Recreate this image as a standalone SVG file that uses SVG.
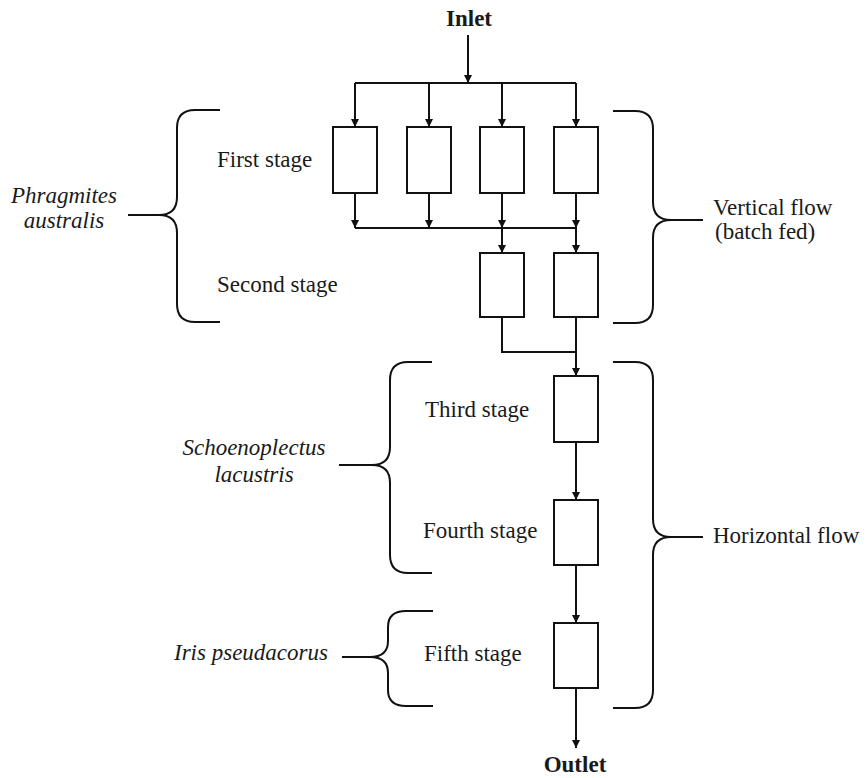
<svg xmlns="http://www.w3.org/2000/svg" width="866" height="778" viewBox="0 0 866 778">
<defs>
<marker id="arr" viewBox="0 0 8 10" refX="8" refY="5" markerWidth="8" markerHeight="10" markerUnits="userSpaceOnUse" orient="auto">
<path d="M0,1 L8,5 L0,9 Z" fill="#111"/>
</marker>
</defs>
<style>
.box{fill:#fff;stroke:#111;stroke-width:2}
.ln{fill:none;stroke:#111;stroke-width:2}
.ar{fill:none;stroke:#111;stroke-width:2;marker-end:url(#arr)}
.br{fill:none;stroke:#111;stroke-width:2}
.t{font-family:"Liberation Serif","Times New Roman",serif;font-size:23px;fill:#1a1a1a}
.b{font-weight:bold;font-size:23px}
.i{font-style:italic}
</style>
<rect width="866" height="778" fill="#fff"/>
<g id="connectors">
<path class="ar" d="M468,35 V83"/>
<path class="ln" d="M355,83 H576"/>
<path class="ar" d="M355,83 V127"/>
<path class="ar" d="M429,83 V127"/>
<path class="ar" d="M502,83 V127"/>
<path class="ar" d="M576,83 V127"/>
<path class="ar" d="M355,193 V228"/>
<path class="ar" d="M429,193 V228"/>
<path class="ar" d="M502,193 V228"/>
<path class="ar" d="M576,193 V228"/>
<path class="ln" d="M355,228 H576"/>
<path class="ar" d="M502,228 V253"/>
<path class="ar" d="M576,228 V253"/>
<path class="ln" d="M502,317 V352 H576"/>
<path class="ar" d="M576,317 V376"/>
<path class="ar" d="M576,442 V500"/>
<path class="ar" d="M576,565 V623"/>
<path class="ar" d="M576,688 V748"/>
</g>
<g id="stage1">
<rect id="s1a" class="box" x="333" y="127" width="44" height="66"/>
<rect id="s1b" class="box" x="407" y="127" width="44" height="66"/>
<rect id="s1c" class="box" x="480" y="127" width="44" height="66"/>
<rect id="s1d" class="box" x="554" y="127" width="44" height="66"/>
</g>
<g id="stage2">
<rect id="s2a" class="box" x="480" y="253" width="44" height="64"/>
<rect id="s2b" class="box" x="554" y="253" width="44" height="64"/>
</g>
<g id="stage3"><rect class="box" x="554" y="376" width="44" height="66"/></g>
<g id="stage4"><rect class="box" x="554" y="500" width="44" height="65"/></g>
<g id="stage5"><rect class="box" x="554" y="623" width="44" height="65"/></g>
<g id="braces">
<path class="br" d="M220,110 H195 Q177,110 177,128 V197 Q177,215 159,215 Q177,215 177,233 V304 Q177,322 195,322 H220 M128,215 H159"/>
<path class="br" d="M613,111 H635 Q653,111 653,129 V202 Q653,220 671,220 Q653,220 653,238 V305 Q653,323 635,323 H613 M671,220 H703"/>
<path class="br" d="M432,362 H408 Q390,362 390,380 V447 Q390,465 372,465 Q390,465 390,483 V555 Q390,573 408,573 H432 M339,465 H372"/>
<path class="br" d="M433,611 H406 Q388,611 388,627 V641 Q388,657 370,657 Q388,657 388,673 V690 Q388,706 406,706 H433 M342,657 H370"/>
<path class="br" d="M613,362 H635 Q653,362 653,380 V519 Q653,537 671,537 Q653,537 653,555 V690 Q653,708 635,708 H613 M671,537 H703"/>
</g>
<g id="labels">
<text class="t b" x="469" y="26" text-anchor="middle">Inlet</text>
<text class="t b" x="575" y="772" text-anchor="middle">Outlet</text>
<text class="t" x="217" y="167">First stage</text>
<text class="t" x="217" y="292">Second stage</text>
<text class="t" x="425" y="417">Third stage</text>
<text class="t" x="423" y="538">Fourth stage</text>
<text class="t" x="424" y="661">Fifth stage</text>
<text class="t i" x="64" y="203" text-anchor="middle">Phragmites</text>
<text class="t i" x="64" y="228" text-anchor="middle">australis</text>
<text class="t i" x="254" y="455" text-anchor="middle">Schoenoplectus</text>
<text class="t i" x="254" y="482" text-anchor="middle">lacustris</text>
<text class="t i" x="174" y="660">Iris pseudacorus</text>
<text class="t" x="713" y="215">Vertical flow</text>
<text class="t" x="715" y="239">(batch fed)</text>
<text class="t" x="713" y="543">Horizontal flow</text>
</g>
</svg>
